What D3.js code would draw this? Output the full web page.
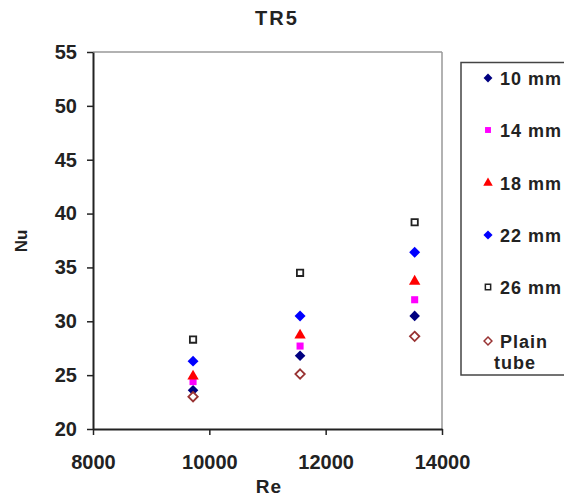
<!DOCTYPE html>
<html><head><meta charset="utf-8">
<script src="https://cdn.jsdelivr.net/npm/d3@7"></script>
<style>
body{margin:0;background:#fff;}
svg text{font-family:"Liberation Sans",Arial,sans-serif;font-weight:bold;fill:#222;}
</style></head>
<body>
<svg id="c" width="564" height="496"></svg>
<script>
const re = [9720, 11560, 13530];
const nu10 = [23.6, 26.8, 30.5];
const nu14 = [24.4, 27.7, 32.0];
const nu18 = [24.9, 28.7, 33.7];
const nu22 = [26.3, 30.5, 36.4];
const nu26 = [28.3, 34.5, 39.2];
const nuPlain = [23.0, 25.1, 28.6];
const seriesNames = ["10 mm", "14 mm", "18 mm", "22 mm", "26 mm", "Plain tube"];
const xTicks = [8000, 10000, 12000, 14000];
const yTicks = [20, 25, 30, 35, 40, 45, 50, 55];

const squareDiamond = {
  draw(ctx, size) {
    const r = Math.sqrt(size / 2);
    ctx.moveTo(0, -r); ctx.lineTo(r, 0); ctx.lineTo(0, r); ctx.lineTo(-r, 0); ctx.closePath();
  }
};

const series = [
  {name: seriesNames[0], vals: nu10, sym: squareDiamond, fill: "#000080", stroke: "none", size: 56},
  {name: seriesNames[1], vals: nu14, sym: d3.symbolSquare, fill: "#ff00ff", stroke: "none", size: 50},
  {name: seriesNames[2], vals: nu18, sym: d3.symbolTriangle, fill: "#ff0000", stroke: "none", size: 56},
  {name: seriesNames[3], vals: nu22, sym: squareDiamond, fill: "#0000ff", stroke: "none", size: 60},
  {name: seriesNames[4], vals: nu26, sym: d3.symbolSquare, fill: "#fff", stroke: "#222", size: 40},
  {name: seriesNames[5], vals: nuPlain, sym: squareDiamond, fill: "#fff", stroke: "#993333", size: 44}
];

const svg = d3.select("#c");
const x = d3.scaleLinear().domain([8000, 14000]).range([93, 442]);
const y = d3.scaleLinear().domain([20, 55]).range([429, 52]);

// frame top/right
svg.append("line").attr("x1", 93).attr("x2", 442).attr("y1", 52).attr("y2", 52).attr("stroke", "#999").attr("stroke-width", 1.5);
svg.append("line").attr("x1", 442).attr("x2", 442).attr("y1", 52).attr("y2", 429).attr("stroke", "#999").attr("stroke-width", 1.5);

const xa = svg.append("g").attr("transform", "translate(0,429)")
  .call(d3.axisBottom(x).tickValues(xTicks).tickSizeInner(6).tickSizeOuter(0).tickPadding(20).tickFormat(d3.format("d")));
const ya = svg.append("g").attr("transform", "translate(93,0)")
  .call(d3.axisLeft(y).tickValues(yTicks).tickSizeInner(6).tickSizeOuter(0).tickPadding(10));
[xa, ya].forEach(a => {
  a.select(".domain").attr("stroke", "#222").attr("stroke-width", 2);
  a.selectAll(".tick line").attr("stroke", "#222").attr("stroke-width", 1.5);
  a.selectAll(".tick text").attr("font-size", 20).attr("fill", "#222")
    .style("font-family", '"Liberation Sans",Arial,sans-serif').style("font-weight", "bold");
});

// points
series.forEach(s => {
  svg.append("g").selectAll("path").data(s.vals).join("path")
    .attr("d", d3.symbol().type(s.sym).size(s.size))
    .attr("transform", (d, i) => `translate(${x(re[i])},${y(d)})`)
    .attr("fill", s.fill).attr("stroke", s.stroke).attr("stroke-width", s.stroke === "none" ? 0 : 1.8);
});

// labels
svg.append("text").attr("x", 277).attr("y", 25).attr("text-anchor", "middle").attr("font-size", 20)
  .attr("letter-spacing", 2).text("TR5");
svg.append("text").attr("x", 269).attr("y", 493).attr("text-anchor", "middle").attr("font-size", 19)
  .attr("letter-spacing", 1).text("Re");
svg.append("text").attr("transform", "translate(27,241) rotate(-90)").attr("text-anchor", "middle")
  .attr("font-size", 17).text("Nu");

// legend
svg.append("rect").attr("x", 461).attr("y", 62.5).attr("width", 120).attr("height", 312.5)
  .attr("fill", "#fff").attr("stroke", "#444").attr("stroke-width", 1.5);
const rows = [78, 130, 183, 235, 287, 341];
const lg = svg.append("g");
series.forEach((s, i) => {
  lg.append("path").attr("d", d3.symbol().type(s.sym).size(s.size * 0.7))
    .attr("transform", `translate(488,${rows[i]})`)
    .attr("fill", s.fill).attr("stroke", s.stroke).attr("stroke-width", s.stroke === "none" ? 0 : 1.5);
  if (i < 5) {
    lg.append("text").attr("x", 500).attr("y", rows[i] + 6.5).attr("font-size", 18)
      .attr("letter-spacing", 1).text(s.name);
  } else {
    const parts = s.name.split(" ");
    lg.append("text").attr("x", 500).attr("y", rows[i] + 6.5).attr("font-size", 18)
      .attr("letter-spacing", 1).text(parts[0]);
    lg.append("text").attr("x", 494).attr("y", rows[i] + 27.5).attr("font-size", 18)
      .attr("letter-spacing", 1).text(parts[1]);
  }
});
</script>
</body></html>
